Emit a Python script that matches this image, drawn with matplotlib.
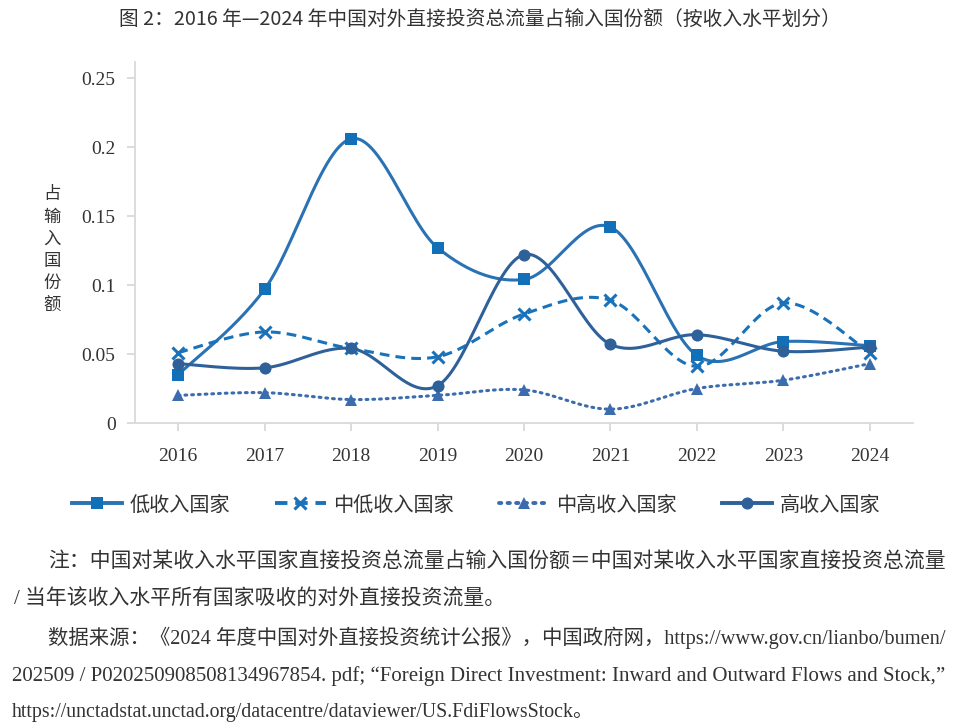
import numpy as np
import matplotlib
matplotlib.use("Agg")
import matplotlib.pyplot as plt
from matplotlib.lines import Line2D

years = [2016, 2017, 2018, 2019, 2020, 2021, 2022, 2023, 2024]
low_income = [0.035, 0.097, 0.206, 0.127, 0.104, 0.142, 0.049, 0.059, 0.056]
lower_middle = [0.051, 0.066, 0.054, 0.048, 0.079, 0.089, 0.041, 0.087, 0.051]
upper_middle = [0.020, 0.022, 0.017, 0.020, 0.024, 0.010, 0.025, 0.031, 0.043]
high_income = [0.043, 0.040, 0.054, 0.027, 0.122, 0.057, 0.064, 0.052, 0.055]
series_names = ["低收入国家", "中低收入国家", "中高收入国家", "高收入国家"]
y_ticks = [0, 0.05, 0.1, 0.15, 0.2, 0.25]
y_tick_labels = ["0", "0.05", "0.1", "0.15", "0.2", "0.25"]

title = "图 2：2016 年—2024 年中国对外直接投资总流量占输入国份额（按收入水平划分）"
y_label = "占\n输\n入\n国\n份\n额"
note_lines = [
    "注：中国对某收入水平国家直接投资总流量占输入国份额＝中国对某收入水平国家直接投资总流量",
    "/ 当年该收入水平所有国家吸收的对外直接投资流量。",
    "数据来源：《2024 年度中国对外直接投资统计公报》，中国政府网，https://www.gov.cn/lianbo/bumen/",
    "202509 / P020250908508134967854. pdf; “Foreign Direct Investment: Inward and Outward Flows and Stock,”",
    "https://unctadstat.unctad.org/datacentre/dataviewer/US.FdiFlowsStock。",
]

FAM = ["Liberation Serif", "Noto Sans CJK SC", "DejaVu Sans"]
plt.rcParams["font.family"] = FAM
TXT = "#333333"


def smooth(x, y, n=30):
    """Excel-like smoothed line (cubic Bezier with Catmull-Rom control points)."""
    x = np.asarray(x, float)
    y = np.asarray(y, float)
    P = np.column_stack([x, y])
    out = []
    for i in range(len(P) - 1):
        p0 = P[i - 1] if i > 0 else P[i]
        p1 = P[i]
        p2 = P[i + 1]
        p3 = P[i + 2] if i + 2 < len(P) else P[i + 1]
        c1 = p1 + (p2 - p0) / 6.0
        c2 = p2 - (p3 - p1) / 6.0
        t = np.linspace(0, 1, n)[:, None]
        seg = ((1 - t) ** 3) * p1 + 3 * ((1 - t) ** 2) * t * c1 + 3 * (1 - t) * t ** 2 * c2 + t ** 3 * p2
        out.append(seg if i == 0 else seg[1:])
    S = np.vstack(out)
    return S[:, 0], S[:, 1]


fig = plt.figure(figsize=(9.54, 7.28), dpi=100)
W, H = 954, 728
ax = fig.add_axes([135 / W, 1 - 423 / H, (913 - 135) / W, (423 - 62) / H])

c_low_line, c_low_mk = "#2a72b3", "#1170b8"
c_lm = "#1a73ba"
c_um = "#3b6cae"
c_hi = "#2e6099"
LW = 2.2

styles = [
    dict(data=low_income, color=c_low_line, mcolor=c_low_mk, ls="-", marker="s", ms=8.7, mew=0),
    dict(data=lower_middle, color=c_lm, mcolor=c_lm, ls=(0, (3.2, 2.0)), marker="x", ms=8.7, mew=2.2),
    dict(data=upper_middle, color=c_um, mcolor=c_um, ls=(0, (0.6, 1.6)), marker="^", ms=8.7, mew=0),
    dict(data=high_income, color=c_hi, mcolor=c_hi, ls="-", marker="o", ms=8.7, mew=0),
]

handles = []
for st, name in zip(styles, series_names):
    sx, sy = smooth(years, st["data"])
    capstyle = "round" if st["marker"] == "^" else "butt"
    ax.plot(sx, sy, color=st["color"], lw=LW, ls=st["ls"], dash_capstyle=capstyle,
            solid_capstyle="round", zorder=2)
    ax.plot(years, st["data"], ls="none", marker=st["marker"], ms=st["ms"],
            mfc=st["mcolor"], mec=st["mcolor"], mew=st["mew"], zorder=3)
    handles.append(Line2D([], [], color=st["color"], lw=LW + 0.6, ls=st["ls"],
                          dash_capstyle=capstyle, marker=st["marker"], ms=st["ms"],
                          mfc=st["mcolor"], mec=st["mcolor"], mew=st["mew"], label=name))

ax.set_xlim(2015.5, 2024.5)
ax.set_ylim(0, 0.2616)
ax.set_xticks(years)
ax.set_xticklabels([str(y) for y in years])
ax.set_yticks(y_ticks)
ax.set_yticklabels(y_tick_labels)
for s in ["top", "right"]:
    ax.spines[s].set_visible(False)
for s in ["left", "bottom"]:
    ax.spines[s].set_color("#d9d9d9")
    ax.spines[s].set_linewidth(1.3)
ax.tick_params(axis="both", colors="#d9d9d9", width=1.3, length=6, labelcolor=TXT,
               labelsize=14)
ax.tick_params(axis="x", pad=12)
ax.tick_params(axis="y", pad=8)
for lab in ax.get_xticklabels() + ax.get_yticklabels():
    lab.set_family(["Liberation Serif"])

fig.text(480 / W, 1 - 20 / H, title, ha="center", va="center", fontsize=14.2,
         color=TXT, family=["Noto Sans CJK SC", "DejaVu Sans"])
fig.text(52 / W, 1 - 250 / H, y_label, ha="center", va="center", fontsize=12.5,
         color=TXT, linespacing=1.3, family=["Noto Sans CJK SC"])

leg = fig.legend(handles=handles, loc="center", bbox_to_anchor=(476 / W, 1 - 505 / H),
                 ncol=4, frameon=False, handlelength=2.5,
                 handletextpad=0.35, columnspacing=2.25,
                 prop={"family": ["Noto Sans CJK SC"], "size": 14.5})
for t in leg.get_texts():
    t.set_color(TXT)

note_pos = [(48, 563), (14, 600), (48, 638), (12, 676), (12, 713)]
note_sizes = [15, 15, 14.7, 15, 14.3]
for (x, y), line, fs in zip(note_pos, note_lines, note_sizes):
    fig.text(x / W, 1 - y / H, line, ha="left", va="center", fontsize=fs,
             color=TXT, family=FAM)

fig.savefig("out.png", dpi=100)
